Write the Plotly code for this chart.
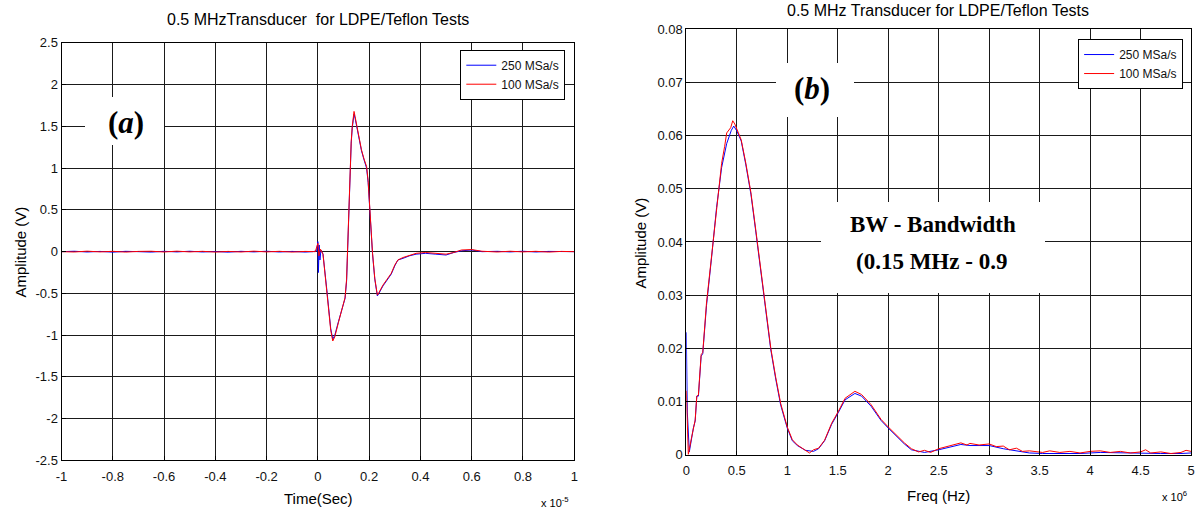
import plotly.graph_objects as go

W, H = 1203, 515

# ---- time-domain pulse (time in units of 1e-5 s, amplitude in V) ----
t_250 = [-1.0, -0.95, -0.9, -0.85, -0.8, -0.75, -0.7, -0.65, -0.6, -0.55, -0.5, -0.45,
         -0.4, -0.35, -0.3, -0.25, -0.2, -0.15, -0.1, -0.05, -0.02, -0.005, 0.0, 0.002,
         0.005, 0.008, 0.012, 0.02, 0.035, 0.05, 0.058, 0.066, 0.08, 0.095, 0.106, 0.112,
         0.116, 0.121, 0.125, 0.13, 0.134, 0.138, 0.141, 0.145, 0.151, 0.16, 0.17, 0.18,
         0.19, 0.196, 0.205, 0.213, 0.222, 0.228, 0.232, 0.238, 0.254, 0.27, 0.286, 0.3,
         0.312, 0.332, 0.357, 0.383, 0.42, 0.46, 0.5, 0.53, 0.56, 0.6, 0.64, 0.7, 0.75,
         0.8, 0.85, 0.9, 0.95, 1.0]
v_250 = [0.0, 0.005, -0.004, 0.003, -0.006, 0.004, 0.0, -0.005, 0.004, -0.003, 0.005, -0.004,
         0.002, -0.006, 0.004, -0.003, 0.005, -0.004, 0.003, -0.005, 0.0, 0.01, 0.12, -0.25,
         0.08, -0.1, 0.02, -0.03, -0.46, -0.92, -1.05, -1.0, -0.84, -0.68, -0.56, -0.35,
         0.0, 0.5, 0.98, 1.3, 1.48, 1.6, 1.65, 1.6, 1.5, 1.35, 1.21, 1.1,
         1.0, 0.83, 0.37, -0.02, -0.33, -0.48, -0.53, -0.5, -0.41, -0.34, -0.27, -0.17,
         -0.1, -0.08, -0.05, -0.03, -0.02, -0.03, -0.04, -0.01, 0.01, 0.02, 0.0, 0.004,
         -0.003, 0.005, -0.004, 0.003, -0.002, 0.0]

t_100 = [-1.0, -0.95, -0.9, -0.85, -0.8, -0.75, -0.7, -0.65, -0.6, -0.55, -0.5, -0.45,
         -0.4, -0.35, -0.3, -0.25, -0.2, -0.15, -0.1, -0.05, -0.01, 0.0, 0.004, 0.01,
         0.02, 0.035, 0.05, 0.058, 0.066, 0.08, 0.095, 0.106, 0.112, 0.116, 0.121, 0.125,
         0.13, 0.134, 0.138, 0.141, 0.145, 0.151, 0.16, 0.17, 0.18, 0.19, 0.196, 0.205,
         0.213, 0.222, 0.228, 0.232, 0.238, 0.254, 0.27, 0.286, 0.3, 0.312, 0.332, 0.357,
         0.383, 0.42, 0.46, 0.5, 0.53, 0.56, 0.6, 0.64, 0.7, 0.75, 0.8, 0.85, 0.9, 0.95, 1.0]
v_100 = [0.0, -0.004, 0.006, -0.003, 0.004, -0.005, 0.003, 0.005, -0.004, 0.006, -0.003, 0.004,
         -0.005, 0.003, -0.004, 0.006, -0.003, 0.004, -0.005, 0.003, 0.0, 0.1, -0.05, 0.03,
         -0.03, -0.48, -0.94, -1.07, -1.02, -0.85, -0.69, -0.55, -0.33, 0.02, 0.52, 1.0,
         1.32, 1.5, 1.62, 1.68, 1.62, 1.52, 1.37, 1.22, 1.11, 1.02, 0.85, 0.38,
         -0.01, -0.32, -0.47, -0.52, -0.49, -0.40, -0.33, -0.26, -0.16, -0.1, -0.07, -0.05,
         -0.02, -0.01, -0.02, -0.03, -0.01, 0.02, 0.025, 0.005, -0.004, 0.005, -0.003, 0.004,
         -0.005, 0.003, 0.0]

# ---- spectrum (frequency in units of 1e6 Hz, amplitude in V) ----
f_250 = [0.0, 0.01, 0.03, 0.05, 0.07, 0.088, 0.104, 0.12, 0.147, 0.163, 0.2, 0.25, 0.3,
         0.35, 0.4, 0.446, 0.47, 0.5, 0.544, 0.59, 0.64, 0.69, 0.74, 0.79, 0.837, 0.886,
         0.935, 1.0, 1.05, 1.1, 1.18, 1.26, 1.31, 1.37, 1.44, 1.508, 1.573, 1.67, 1.736,
         1.83, 1.93, 2.0, 2.09, 2.16, 2.23, 2.36, 2.5, 2.62, 2.72, 2.81, 3.0, 3.14, 3.27,
         3.4, 3.53, 3.7, 3.9, 4.1, 4.3, 4.5, 4.7, 4.9, 5.0]
a_250 = [0.023, 0.008, 0.0005, 0.003, 0.005, 0.0063, 0.011, 0.011, 0.0185, 0.019, 0.028,
         0.037, 0.0465, 0.054, 0.0585, 0.061, 0.0618, 0.0609, 0.059, 0.0545, 0.049, 0.0417,
         0.0343, 0.0264, 0.0197, 0.0142, 0.0093, 0.005, 0.0026, 0.0017, 0.0008, 0.0006,
         0.0011, 0.0026, 0.0057, 0.008, 0.0103, 0.0115, 0.011, 0.0091, 0.0064, 0.005, 0.0032,
         0.002, 0.0009, 0.0004, 0.0009, 0.0015, 0.0019, 0.0017, 0.0017, 0.0011, 0.0007,
         0.0003, 0.0002, 0.0002, 0.0002, 0.0004, 0.0003, 0.0002, 0.0002, 0.0002, 0.0003]

f_100 = [0.0, 0.02, 0.05, 0.07, 0.088, 0.104, 0.12, 0.147, 0.163, 0.2, 0.25, 0.3, 0.35,
         0.38, 0.4, 0.44, 0.46, 0.48, 0.5, 0.544, 0.59, 0.64, 0.69, 0.74, 0.79, 0.837, 0.886,
         0.935, 1.0, 1.05, 1.1, 1.18, 1.22, 1.26, 1.31, 1.37, 1.44, 1.508, 1.573, 1.67,
         1.736, 1.83, 1.93, 2.0, 2.09, 2.16, 2.23, 2.3, 2.36, 2.42, 2.5, 2.62, 2.72, 2.78,
         2.81, 2.9, 3.0, 3.07, 3.14, 3.2, 3.27, 3.33, 3.4, 3.53, 3.6, 3.7, 3.8, 3.9, 4.0, 4.1,
         4.2, 4.3, 4.4, 4.5, 4.55, 4.6, 4.7, 4.8, 4.9, 4.95, 5.0]
a_100 = [0.012, 0.0, 0.003, 0.0052, 0.0065, 0.011, 0.0112, 0.0188, 0.0192, 0.0285, 0.0375,
         0.047, 0.0548, 0.058, 0.0605, 0.0615, 0.0628, 0.0622, 0.0612, 0.0592, 0.0548, 0.0493,
         0.042, 0.0347, 0.0268, 0.02, 0.0145, 0.0096, 0.0052, 0.0028, 0.0018, 0.0008, 0.0003,
         0.0009, 0.0012, 0.0027, 0.0059, 0.0082, 0.0106, 0.0119, 0.0113, 0.0094, 0.0066,
         0.0052, 0.0034, 0.0022, 0.0011, 0.0005, 0.0008, 0.0004, 0.0011, 0.0017, 0.0022,
         0.0018, 0.0021, 0.0018, 0.002, 0.0015, 0.0016, 0.0009, 0.0012, 0.0006, 0.0007,
         0.0004, 0.0007, 0.0004, 0.0006, 0.0003, 0.0006, 0.0007, 0.0004, 0.0006, 0.0003,
         0.0005, 0.0009, 0.0003, 0.0005, 0.0002, 0.0004, 0.0008, 0.0006]

# ---- tick labels ----
x1_ticks = [-1, -0.8, -0.6, -0.4, -0.2, 0, 0.2, 0.4, 0.6, 0.8, 1]
x1_text = ["-1", "-0.8", "-0.6", "-0.4", "-0.2", "0", "0.2", "0.4", "0.6", "0.8", "1"]
y1_ticks = [-2.5, -2, -1.5, -1, -0.5, 0, 0.5, 1, 1.5, 2, 2.5]
y1_text = ["-2.5", "-2", "-1.5", "-1", "-0.5", "0", "0.5", "1", "1.5", "2", "2.5"]
x2_ticks = [0, 0.5, 1, 1.5, 2, 2.5, 3, 3.5, 4, 4.5, 5]
x2_text = ["0", "0.5", "1", "1.5", "2", "2.5", "3", "3.5", "4", "4.5", "5"]
y2_ticks = [0, 0.01, 0.02, 0.03, 0.04, 0.05, 0.06, 0.07, 0.08]
y2_text = ["0", "0.01", "0.02", "0.03", "0.04", "0.05", "0.06", "0.07", "0.08"]

BLUE = "#0000ff"
RED = "#ff0000"
SANS = "Liberation Sans, Arial, sans-serif"
SERIF = "Liberation Serif, Times New Roman, serif"


def px(x, y):
    """Pixel position -> paper fraction."""
    return x / W, 1 - y / H


fig = go.Figure()
fig.add_trace(go.Scatter(x=t_250, y=v_250, mode="lines", name="250 MSa/s",
                         line=dict(color=BLUE, width=1), xaxis="x", yaxis="y",
                         legend="legend"))
fig.add_trace(go.Scatter(x=t_100, y=v_100, mode="lines", name="100 MSa/s",
                         line=dict(color=RED, width=1), xaxis="x", yaxis="y",
                         legend="legend"))
fig.add_trace(go.Scatter(x=f_250, y=a_250, mode="lines", name="250 MSa/s",
                         line=dict(color=BLUE, width=1), xaxis="x2", yaxis="y2",
                         legend="legend2"))
fig.add_trace(go.Scatter(x=f_100, y=a_100, mode="lines", name="100 MSa/s",
                         line=dict(color=RED, width=1), xaxis="x2", yaxis="y2",
                         legend="legend2"))

axis_common = dict(showline=True, mirror=True, linecolor="black", linewidth=1,
                   showgrid=True, gridcolor="#1a1a1a", gridwidth=1, zeroline=False,
                   ticks="inside", ticklen=4, tickcolor="black",
                   tickfont=dict(family=SANS, size=13, color="#111"), fixedrange=True)

x1a, x1b = 56 / W, 573 / W
x2a, x2b = 686 / W, 1195 / W
y1a, y1b = 1 - 467 / H, 1 - 37 / H
y2a, y2b = 1 - 461 / H, 1 - 23 / H

fig.update_layout(
    width=W, height=H, autosize=False,
    margin=dict(l=0, r=0, t=0, b=0),
    paper_bgcolor="white", plot_bgcolor="white",
    xaxis=dict(axis_common, domain=[x1a, x1b], range=[-1, 1], anchor="y",
               tickvals=x1_ticks, ticktext=x1_text, ticklabelstandoff=4),
    yaxis=dict(axis_common, domain=[y1a, y1b], range=[-2.5, 2.5], anchor="x",
               tickvals=y1_ticks, ticktext=y1_text),
    xaxis2=dict(axis_common, domain=[x2a, x2b], range=[0, 5], anchor="y2",
                tickvals=x2_ticks, ticktext=x2_text, ticklabelstandoff=4),
    yaxis2=dict(axis_common, domain=[y2a, y2b], range=[0, 0.08], anchor="x2",
                tickvals=y2_ticks, ticktext=y2_text),
    legend=dict(x=564 / W, y=1 - 44 / H, xanchor="right", yanchor="top",
                bgcolor="white", bordercolor="black", borderwidth=1,
                font=dict(family=SANS, size=12, color="#111"),
                itemwidth=30, tracegroupgap=0),
    legend2=dict(x=1187 / W, y=1 - 33 / H, xanchor="right", yanchor="top",
                 bgcolor="white", bordercolor="black", borderwidth=1,
                 font=dict(family=SANS, size=12, color="#111"),
                 itemwidth=30, tracegroupgap=0),
    showlegend=True,
)

ann = []

# white label panels (left, top, right, bottom in pixels)
panels = [(80, 93, 159, 141), (777, 58, 855, 112), (823, 202, 1047, 293)]
for a, b, c, d in panels:
    cx, cy = px((a + c) / 2, (b + d) / 2)
    ann.append(dict(x=cx, y=cy, xref="paper", yref="paper", text=" ", showarrow=False,
                    xanchor="center", yanchor="middle", width=c - a, height=d - b,
                    bgcolor="white", borderpad=0, borderwidth=0,
                    font=dict(size=1)))


def text(x, y, s, size, family=SANS, angle=0):
    px_, py_ = px(x, y)
    ann.append(dict(x=px_, y=py_, xref="paper", yref="paper", text=s, showarrow=False,
                    xanchor="center", yanchor="middle", textangle=angle,
                    font=dict(family=family, size=size, color="black")))


text(315, 13, "0.5 MHzTransducer  for LDPE/Teflon Tests", 16)
text(940, 4, "0.5 MHz Transducer for LDPE/Teflon Tests", 16)
text(315, 506, "Time(Sec)", 15)
text(940, 503, "Freq (Hz)", 15)
text(15, 252, "Amplitude (V)", 15, angle=-90)
text(640, 243, "Amplitude (V)", 15, angle=-90)
text(554, 510, "x 10<sup>-5</sup>", 11)
text(1178, 504, "x 10<sup>6</sup>", 11)
text(121, 119, "<b>(<i>a</i>)</b>", 31, family=SERIF)
text(813, 84, "<b>(<i>b</i>)</b>", 31, family=SERIF)
text(935, 224, "<b>BW - Bandwidth</b>", 23, family=SERIF)
text(933, 262, "<b>(0.15 MHz - 0.9</b>", 23, family=SERIF)

fig.update_layout(annotations=ann)

fig.write_html("out.html")
